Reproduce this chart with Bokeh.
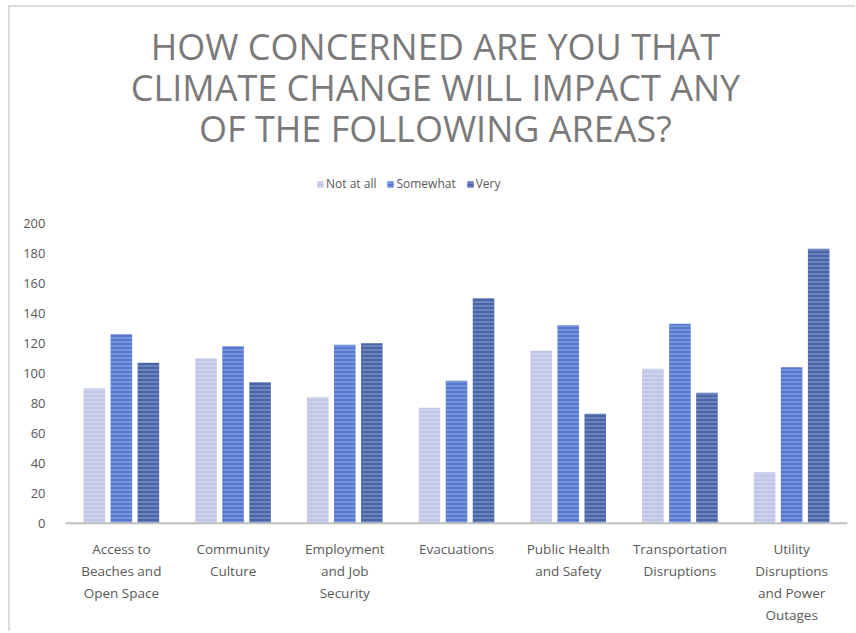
from bokeh.plotting import figure
from bokeh.models import (ColumnDataSource, FactorRange, Range1d, Legend,
                          LegendItem, LabelSet, Label, Span, FixedTicker)
from bokeh.core.properties import value
from bokeh.transform import dodge
from bokeh.embed import file_html
from bokeh.resources import INLINE

# Survey responses per area
areas = ["Access to Beaches and Open Space", "Community Culture",
         "Employment and Job Security", "Evacuations",
         "Public Health and Safety", "Transportation Disruptions",
         "Utility Disruptions and Power Outages"]
area_label_lines = [["Access to", "Beaches and", "Open Space"],
                    ["Community", "Culture"],
                    ["Employment", "and Job", "Security"],
                    ["Evacuations"],
                    ["Public Health", "and Safety"],
                    ["Transportation", "Disruptions"],
                    ["Utility", "Disruptions", "and Power", "Outages"]]
not_at_all = [90, 110, 84, 77, 115, 103, 34]
somewhat = [126, 118, 119, 95, 132, 133, 104]
very = [107, 94, 120, 150, 73, 87, 183]
y_ticks = [0, 20, 40, 60, 80, 100, 120, 140, 160, 180, 200]
series_names = ["Not at all", "Somewhat", "Very"]
title_lines = ["HOW CONCERNED ARE YOU THAT",
               "CLIMATE CHANGE WILL IMPACT ANY",
               "OF THE FOLLOWING AREAS?"]

# page layout (pixels); the chart box starts a little inside the page
PAGE_W, PAGE_H = 856, 633
OX, OY = 11, 9                     # where the chart canvas starts on the page
W, H = PAGE_W - OX, PAGE_H - OY
LEFT, RIGHT = 66 - OX, 10
ZERO_PX = 523 - OY                 # vertical pixel of the value 0
PX_PER_UNIT = 1.495                # vertical pixels per response

def y_at(page_px):
    """data value sitting at a given vertical page pixel"""
    return (ZERO_PX - (page_px - OY)) / PX_PER_UNIT

def x_at(page_px):
    """categorical coordinate sitting at a given horizontal page pixel"""
    return (page_px - OX - LEFT) / ((W - LEFT - RIGHT) / len(areas))

src = ColumnDataSource(dict(area=areas, not_at_all=not_at_all,
                            somewhat=somewhat, very=very))

p = figure(width=W, height=H, x_range=FactorRange(*areas, range_padding=0),
           y_range=Range1d(y_at(PAGE_H), y_at(OY)), output_backend="svg",
           toolbar_location=None, min_border_left=LEFT,
           min_border_right=RIGHT, min_border_top=0, min_border_bottom=0)
p.styles = {"margin-left": "8px", "margin-top": "5px",
            "border-left": "2px solid #dcdcdc",
            "border-top": "2px solid #dcdcdc",
            "box-sizing": "content-box"}
p.outline_line_color = None
p.grid.grid_line_color = None
p.background_fill_color = "white"
p.border_fill_color = "white"

colors = ["#c0c6e6", "#5679cf", "#4765a8"]
offsets = [-0.242, 0.0, 0.242]
cols = ["not_at_all", "somewhat", "very"]
items = []
for name, col, color, off in zip(series_names, cols, colors, offsets):
    r = p.vbar(x=dodge("area", off, range=p.x_range), top=col, width=0.193,
               source=src, fill_color=color, line_color=None,
               hatch_pattern="horizontal_line", hatch_color="white",
               hatch_alpha=0.4, hatch_scale=4, hatch_weight=1)
    items.append(LegendItem(label=name, renderers=[r]))

legend = Legend(items=items, orientation="horizontal", location=(251, 441),
                label_text_font="Open Sans", label_text_font_size="12px",
                label_text_color="#595959", glyph_width=8, glyph_height=8,
                label_standoff=2, spacing=10, padding=0, margin=0,
                border_line_color=None, background_fill_alpha=0)
p.add_layout(legend, "center")

# category axis: baseline plus wrapped labels under each group
p.xaxis.visible = False
p.add_layout(Span(location=0, dimension="width", line_color="#bfbfbf",
                  line_width=2))
lx, ly, lt = [], [], []
for area, lines in zip(areas, area_label_lines):
    for i, line in enumerate(lines):
        lx.append(area)
        ly.append(y_at(549 + 21.7 * i))
        lt.append(line)
p.add_layout(LabelSet(x="x", y="y", text="text",
                      source=ColumnDataSource(dict(x=lx, y=ly, text=lt)),
                      text_align="center", text_baseline="middle",
                      text_font=value("Open Sans"), text_font_size="13.5px",
                      text_color="#595959"))

# value axis
p.yaxis.ticker = FixedTicker(ticks=y_ticks)
p.yaxis.axis_line_color = None
p.yaxis.major_tick_line_color = None
p.yaxis.minor_tick_line_color = None
p.yaxis.major_label_text_font = "Open Sans"
p.yaxis.major_label_text_font_size = "13px"
p.yaxis.major_label_text_color = "#595959"
p.yaxis.major_label_standoff = 14

# chart title, three centred lines
for i, line in enumerate(title_lines):
    p.add_layout(Label(x=x_at(435), y=y_at(48 + 41 * i), text=line,
                       text_align="center", text_baseline="alphabetic",
                       text_font="Open Sans", text_font_size="36px",
                       text_color="#7a7a7a"))

open("out.html", "w").write(file_html(p, INLINE))
